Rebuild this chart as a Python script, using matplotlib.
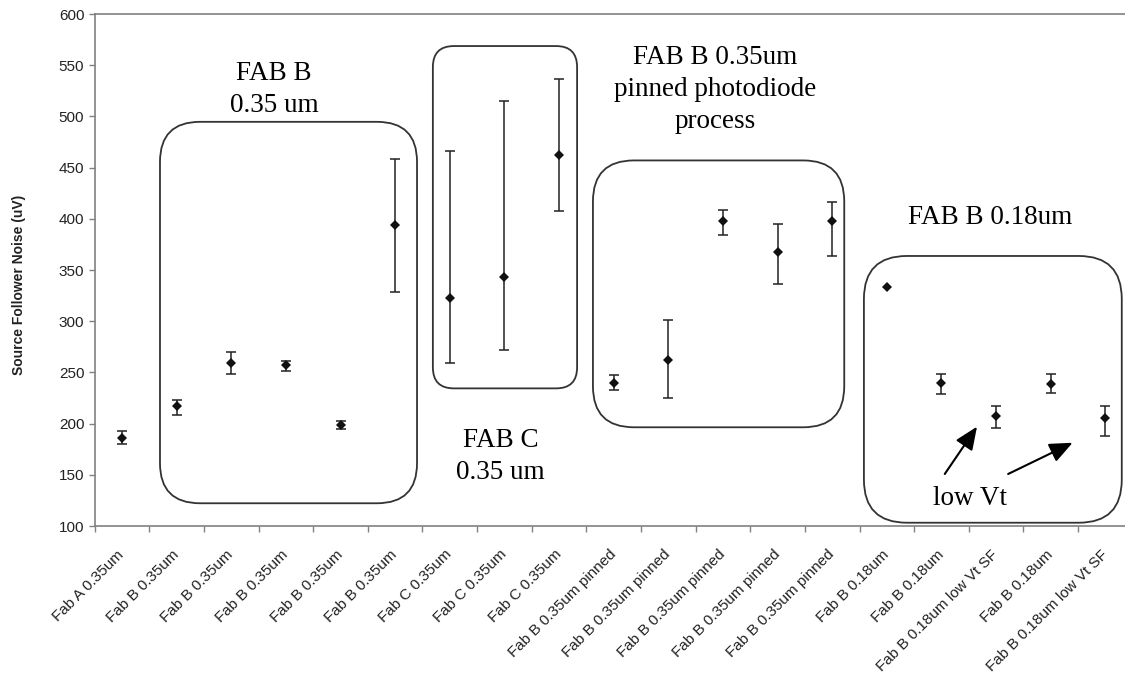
import numpy as np
import matplotlib.pyplot as plt
from matplotlib.patches import FancyBboxPatch
from matplotlib.ticker import FixedLocator

plt.rcParams['font.family'] = ['Liberation Sans', 'DejaVu Sans']

labels = (["Fab A 0.35um"] + ["Fab B 0.35um"] * 5 + ["Fab C 0.35um"] * 3
          + ["Fab B 0.35um pinned"] * 5
          + ["Fab B 0.18um", "Fab B 0.18um", "Fab B 0.18um low Vt SF",
             "Fab B 0.18um", "Fab B 0.18um low Vt SF"])

# source follower noise (uV): mean, upper and lower end of the spread
noise = [186, 217, 259, 257, 199, 394, 323, 343, 462, 240,
         262, 398, 368, 398, 333, 240, 207, 239, 205]
noise_hi = [193, 223, 270, 261, 203, 458, 466, 515, 537, 247,
            301, 409, 395, 416, 333, 248, 217, 248, 217]
noise_lo = [180, 208, 248, 251, 195, 329, 259, 272, 408, 233,
            225, 384, 336, 364, 333, 229, 196, 230, 188]

fig = plt.figure(figsize=(11.25, 6.78), dpi=100)
ax = fig.add_axes([94.7 / 1125, 152 / 678, 1038 / 1125, 512 / 678])

x = np.arange(len(labels))
mean = np.array(noise, dtype=float)
hi = np.array(noise_hi, dtype=float)
lo = np.array(noise_lo, dtype=float)
has_bar = hi > lo

ax.errorbar(x[has_bar], mean[has_bar],
            yerr=[mean[has_bar] - lo[has_bar], hi[has_bar] - mean[has_bar]],
            fmt='none', ecolor='#222222', elinewidth=1.1, capsize=3.4, capthick=1.1)
ax.plot(x, mean, 'D', color='#111111', ms=5, mew=0, zorder=3)

ax.set_xlim(-0.5, len(labels) - 0.5)
ax.set_ylim(100, 600)
ax.set_yticks(np.arange(100, 601, 50))
ax.set_xticks(x)
ax.set_xticklabels(labels, rotation=45, ha='right', va='center',
                   rotation_mode='anchor')
ax.xaxis.set_minor_locator(FixedLocator(np.arange(-0.5, len(labels), 1)))

ax.tick_params(axis='y', length=4, width=1, color='#808080',
               labelsize=11, labelcolor='#222222', pad=3.5)
ax.tick_params(axis='x', which='major', length=0, pad=19,
               labelsize=11, labelcolor='#222222')
ax.tick_params(axis='x', which='minor', length=4, width=1, color='#808080')

for side in ['left', 'bottom', 'top']:
    ax.spines[side].set_color('#808080')
    ax.spines[side].set_linewidth(1.2)
ax.spines['right'].set_visible(False)

ax.set_ylabel('Source Follower Noise (uV)', fontsize=10, fontweight='bold',
              color='#222222')
ax.yaxis.set_label_coords(-0.066, 0.47)

# rounded group outlines, corner radius given in pixels
bbox = ax.get_window_extent()
px_x = bbox.width / len(labels)
px_y = bbox.height / 500


def group_box(x0, x1, y0, y1, radius_px):
    r = radius_px / px_x
    patch = FancyBboxPatch((x0, y0), x1 - x0, y1 - y0,
                           boxstyle=f"round,pad=0,rounding_size={r}",
                           mutation_aspect=px_x / px_y,
                           fc='none', ec='#333333', lw=1.3, zorder=2)
    ax.add_patch(patch)


group_box(0.695, 5.40, 122.2, 494.7, 40)
group_box(5.69, 8.33, 234.4, 568.7, 21)
group_box(8.62, 13.22, 196.4, 457.0, 41)
group_box(13.58, 18.30, 103.2, 363.7, 43)

serif = dict(family=['Liberation Serif', 'DejaVu Serif'], fontsize=19.5,
             ha='center', va='center', linespacing=1.36, color='black')
ax.text(2.78, 526, 'FAB B\n0.35 um', **serif)
ax.text(6.93, 168, 'FAB C\n0.35 um', **serif)
ax.text(10.86, 526, 'FAB B 0.35um\npinned photodiode\nprocess', **serif)
ax.text(15.89, 401, 'FAB B 0.18um', **serif)
ax.text(15.52, 127, 'low Vt', **serif)

arrow = dict(arrowstyle='-|>,head_length=0.7,head_width=0.3',
             mutation_scale=20, color='black', lw=1.5, shrinkA=0, shrinkB=0)
ax.annotate('', xy=(15.65, 197), xytext=(15.06, 150.8), arrowprops=arrow)
ax.annotate('', xy=(17.40, 181.3), xytext=(16.22, 150.8), arrowprops=arrow)

fig.savefig('out.png', dpi=100)
